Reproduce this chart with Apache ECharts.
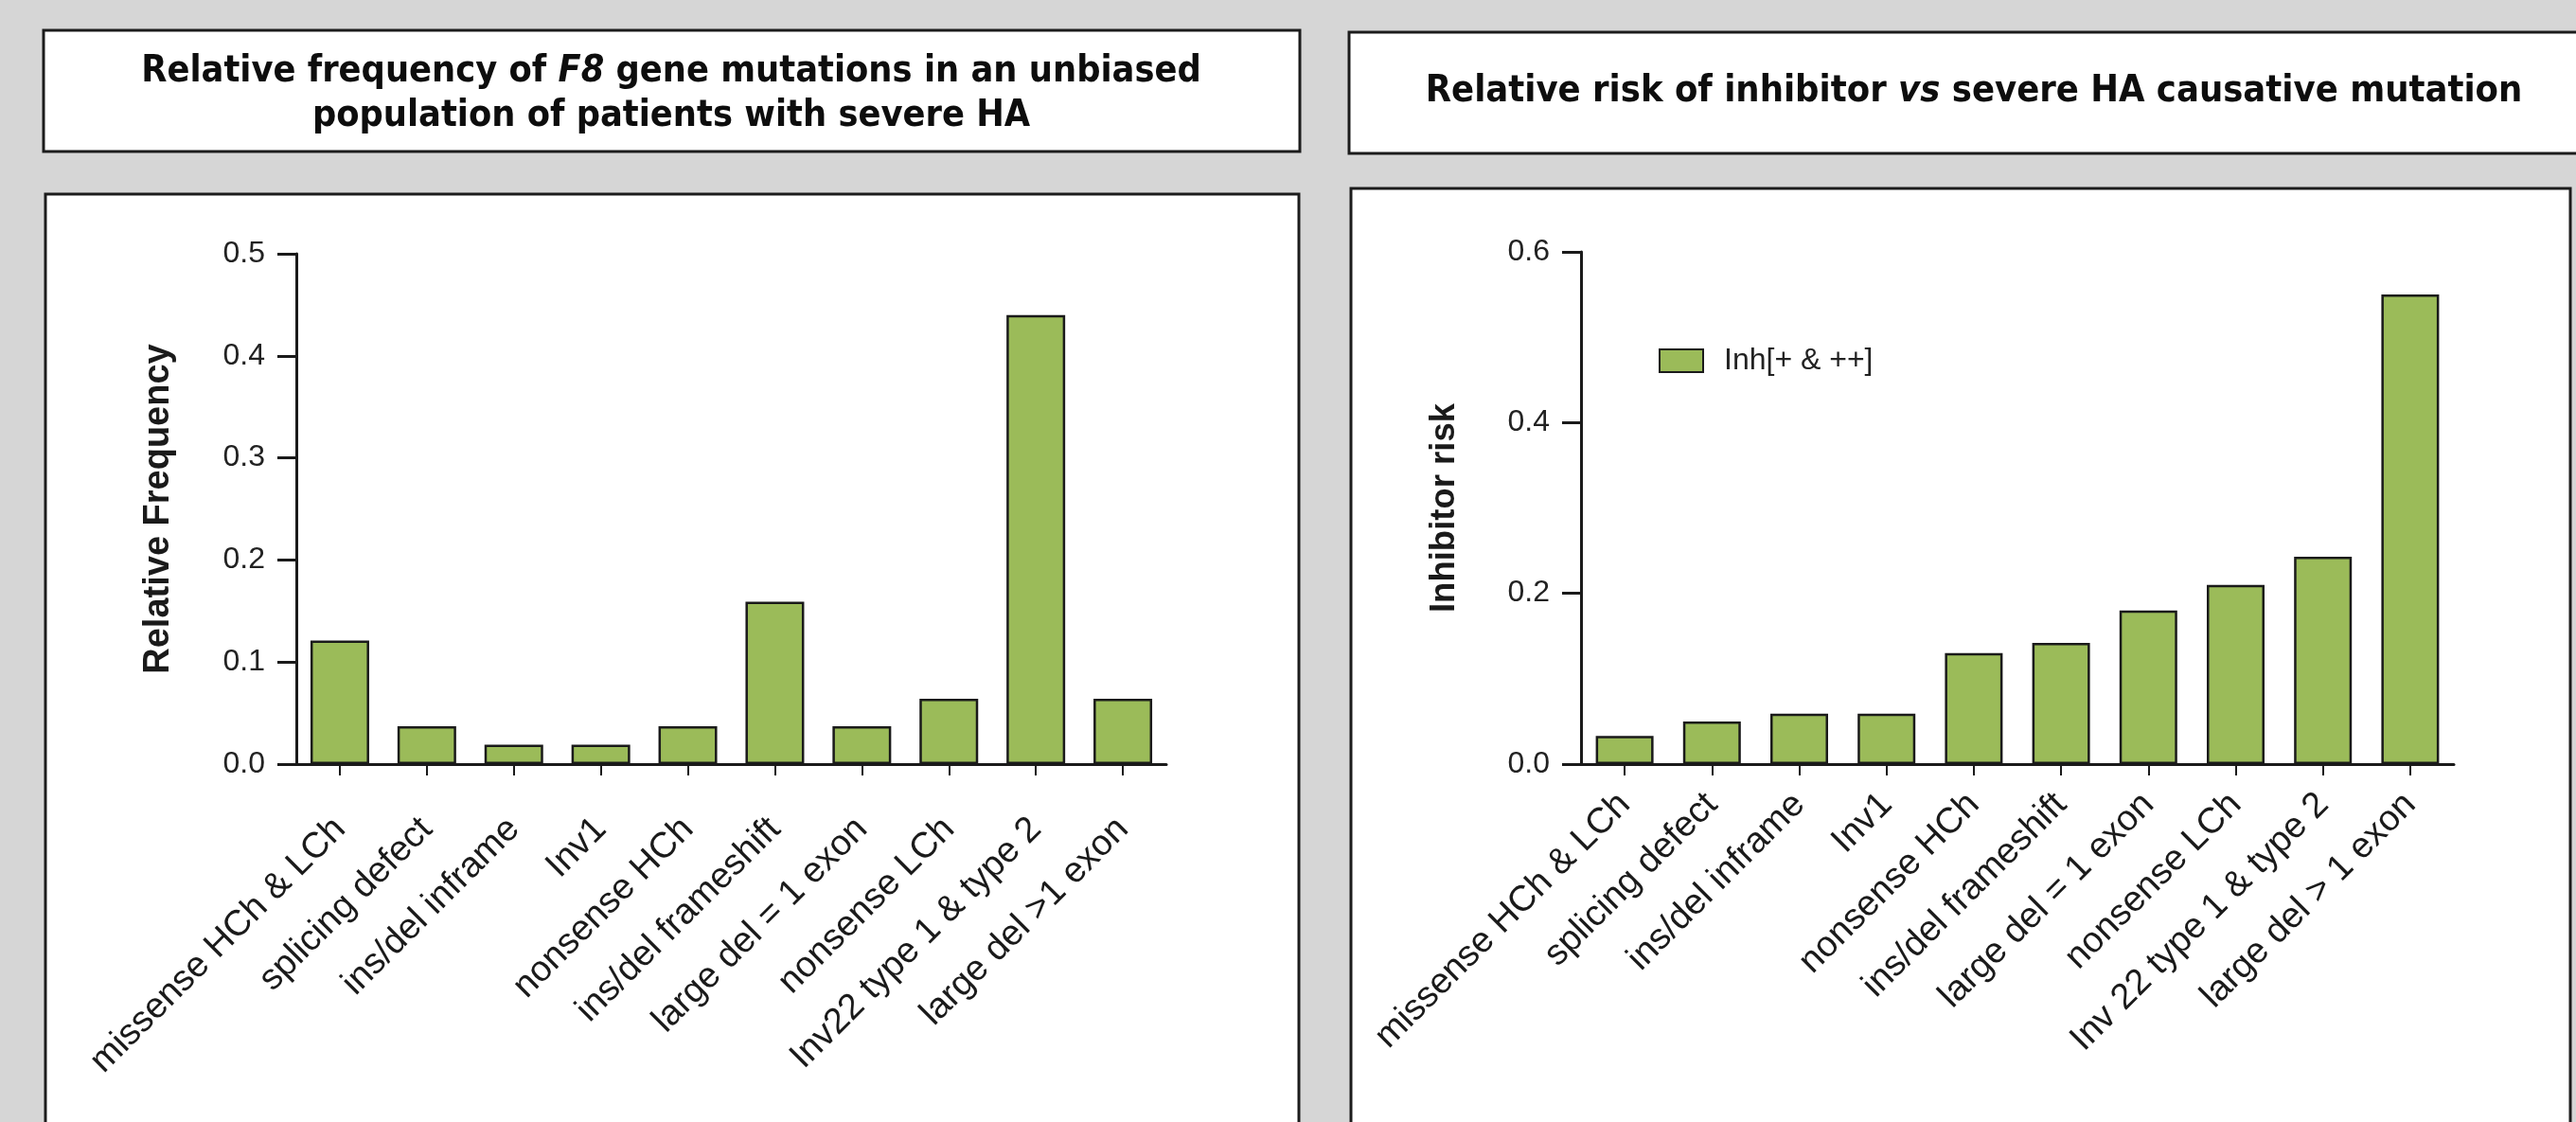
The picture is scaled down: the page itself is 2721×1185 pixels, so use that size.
<!DOCTYPE html>
<html>
<head>
<meta charset="utf-8">
<script src="https://cdn.jsdelivr.net/npm/echarts@6/dist/echarts.min.js"></script>
<style>
html,body{margin:0;padding:0;background:#d6d6d6;}
#c{width:2721px;height:1185px;}
</style>
</head>
<body>
<div id="c"></div>
<script>
// ---- data ----
var catsFreq = ['missense HCh & LCh','splicing defect','ins/del inframe','Inv1','nonsense HCh','ins/del frameshift','large del = 1 exon','nonsense LCh','Inv22 type 1 & type 2','large del >1 exon'];
var relFreq = [0.121, 0.037, 0.019, 0.019, 0.037, 0.159, 0.037, 0.064, 0.440, 0.064];
var catsRisk = ['missense HCh & LCh','splicing defect','ins/del inframe','Inv1','nonsense HCh','ins/del frameshift','large del = 1 exon','nonsense LCh','Inv 22 type 1 & type 2','large del > 1 exon'];
var inhRisk = [0.033, 0.050, 0.059, 0.059, 0.130, 0.142, 0.180, 0.210, 0.243, 0.550];
var freqTicks = {min:0, max:0.5, interval:0.1};
var riskTicks = {min:0, max:0.6, interval:0.2};
var legendName = 'Inh[+ & ++]';
var titleLeft = 'Relative frequency of {i|F8} gene mutations in an unbiased\npopulation of patients with severe HA';
var titleRight = 'Relative risk of inhibitor {i|vs} severe HA causative mutation';
var yNameLeft = 'Relative Frequency';
var yNameRight = 'Inhibitor risk';

var GREEN = '#9bbb59';
var FONT = '"Liberation Sans", Arial, sans-serif';
var TFONT = '"DejaVu Sans Condensed", "DejaVu Sans", sans-serif';

function yAxis(gi, t, name, nameSize){
  return {
    type:'value', gridIndex:gi, min:t.min, max:t.max, interval:t.interval,
    name:name, nameLocation:'middle', nameGap:126, nameRotate:90,
    nameTextStyle:{fontFamily:FONT, fontWeight:'bold', fontSize:nameSize, color:'#1a1a1a'},
    axisLine:{show:true, lineStyle:{color:'#1a1a1a', width:3}},
    axisTick:{show:true, length:20, lineStyle:{color:'#1a1a1a', width:3}},
    splitLine:{show:false},
    axisLabel:{margin:33, fontFamily:FONT, fontSize:32, color:'#222',
      formatter:function(v){return v.toFixed(1);}}
  };
}
function xAxis(gi, cats, margin){
  return {
    type:'category', gridIndex:gi, data:cats,
    axisLine:{show:true, lineStyle:{color:'#1a1a1a', width:3}},
    axisTick:{show:true, alignWithLabel:true, length:12, lineStyle:{color:'#1a1a1a', width:2}},
    axisLabel:{interval:0, rotate:45, margin:margin, fontFamily:FONT, fontSize:38, color:'#1a1a1a'}
  };
}
function titleText(x, y, txt, size){
  return {type:'text', z:10, x:x, y:y, style:{text:txt, align:'center', verticalAlign:'middle',
    fontFamily:TFONT, fontWeight:'bold', fontSize:size, lineHeight:47, fill:'#0d0d0d',
    rich:{i:{fontFamily:TFONT, fontWeight:'bold', fontStyle:'italic', fontSize:size, lineHeight:47, fill:'#0d0d0d'}}}};
}

var chart = echarts.init(document.getElementById('c'), null, {renderer:'canvas'});
chart.setOption({
  backgroundColor:'#d6d6d6',
  animation:false,
  graphic:[
    {type:'rect', z:-10, shape:{x:46, y:32, width:1327, height:128}, style:{fill:'#fff', stroke:'#1c1c1c', lineWidth:3}},
    {type:'rect', z:-10, shape:{x:1425, y:34, width:1330, height:128}, style:{fill:'#fff', stroke:'#1c1c1c', lineWidth:3}},
    {type:'rect', z:-10, shape:{x:48, y:205, width:1324, height:1100}, style:{fill:'#fff', stroke:'#1c1c1c', lineWidth:3}},
    {type:'rect', z:-10, shape:{x:1427, y:199, width:1288, height:1100}, style:{fill:'#fff', stroke:'#1c1c1c', lineWidth:3}},
    titleText(709, 99, titleLeft, 39.3),
    titleText(2085, 97, titleRight, 39.5)
  ],
  legend:{
    data:[legendName], left:1752, top:365, padding:0, selectedMode:false,
    itemWidth:46, itemHeight:24, icon:'rect',
    textStyle:{fontFamily:FONT, fontSize:32, color:'#222', padding:[0,0,0,17]}
  },
  grid:[
    {left:313, top:268, width:919, height:539, containLabel:false},
    {left:1670, top:266, width:922, height:541, containLabel:false}
  ],
  xAxis:[xAxis(0, catsFreq, 63), xAxis(1, catsRisk, 37)],
  yAxis:[yAxis(0, freqTicks, yNameLeft, 38), yAxis(1, riskTicks, yNameRight, 36.5)],
  series:[
    {type:'bar', name:'Relative Frequency', xAxisIndex:0, yAxisIndex:0, data:relFreq, barWidth:62,
      itemStyle:{color:GREEN, borderColor:'#1a1a1a', borderWidth:2.5}},
    {type:'bar', name:legendName, xAxisIndex:1, yAxisIndex:1, data:inhRisk, barWidth:61,
      itemStyle:{color:GREEN, borderColor:'#1a1a1a', borderWidth:2.5}}
  ]
});
</script>
</body>
</html>
